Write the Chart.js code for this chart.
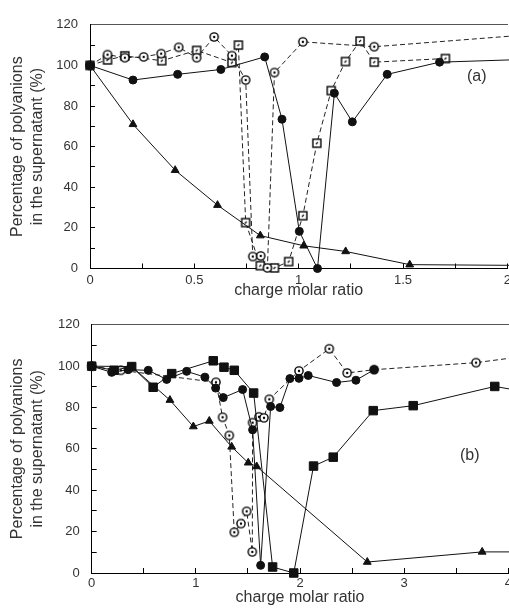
<!DOCTYPE html>
<html>
<head>
<meta charset="utf-8">
<script src="https://cdn.jsdelivr.net/npm/chart.js@4.4.1/dist/chart.umd.min.js"></script>
<style>
	html, body { margin: 0; padding: 0; background: #fff; overflow: hidden; width: 509px; height: 608px; }
	.painel { position: absolute; left: 0; }
	#painel_a { top: 0; }
	#painel_b { top: 300px; }
	.rotulo { position: absolute; font: 16px "Liberation Sans", Arial, sans-serif; line-height: 18px; color: #333; }
</style>
</head>
<body>
<div class="painel" id="painel_a"><canvas id="grafico_a" width="520" height="300"></canvas></div>
<div class="painel" id="painel_b"><canvas id="grafico_b" width="520" height="308"></canvas></div>
<div class="rotulo" style="left:467px; top:67px;">(a)</div>
<div class="rotulo" style="left:460px; top:446px;">(b)</div>
<script>
// painel (a)
var razaoA_circCheio = [0, 0.206, 0.42, 0.627, 0.837, 0.92, 1.003, 1.09, 1.171, 1.257, 1.424, 1.675, 2.1];
var pctA_circCheio = [100, 92.8, 95.6, 98, 104.2, 73.5, 18.3, 0, 86.3, 72.2, 95.6, 101.6, 103];

var razaoA_circVazio = [0, 0.084, 0.167, 0.257, 0.341, 0.425, 0.511, 0.595, 0.68, 0.746, 0.78, 0.818, 0.85, 0.884, 1.02, 1.362, 2.1];
var pctA_circVazio = [100, 105.3, 103.8, 104.2, 105.8, 108.9, 103.8, 114, 104.8, 92.8, 5.9, 6.2, 0.3, 96.5, 111.6, 109.2, 115.1];

var razaoA_quadVazio = [0, 0.084, 0.167, 0.344, 0.511, 0.68, 0.711, 0.746, 0.816, 0.884, 0.952, 1.02, 1.087, 1.156, 1.224, 1.294, 1.362, 1.703];
var pctA_quadVazio = [100, 102.7, 104.7, 102.3, 107.4, 101.4, 110, 22.6, 1.4, 0.3, 3.4, 26, 61.7, 87.6, 101.9, 112, 101.6, 103.4];

var razaoA_tri = [0, 0.206, 0.408, 0.611, 0.816, 1.024, 1.225, 1.532, 2.1];
var pctA_tri = [100, 71, 48.4, 31.2, 16.2, 11.2, 8.4, 1.9, 1.5];

// painel (b)
var razaoB_quadCheio = [0, 0.215, 0.384, 0.59, 0.768, 1.167, 1.27, 1.369, 1.555, 1.737, 1.94, 2.13, 2.319, 2.703, 3.087, 3.87, 4.1];
var pctB_quadCheio = [100, 98, 99.8, 89.8, 96.4, 102.6, 99.5, 98, 87, 2.9, 0, 51.7, 56, 78.5, 80.9, 90.2, 88.2];

var razaoB_circCheio = [0, 0.192, 0.35, 0.543, 0.72, 0.912, 1.087, 1.19, 1.263, 1.449, 1.545, 1.622, 1.718, 1.807, 1.903, 1.99, 2.079, 2.351, 2.537, 2.712];
var pctB_circCheio = [100, 97, 98.3, 98, 93.6, 97.5, 94.7, 89.4, 84.8, 88.7, 69.2, 3.7, 80.5, 80, 94, 94.1, 95.5, 92.1, 93.2, 98.3];

var razaoB_circVazio = [0, 0.28, 1.193, 1.257, 1.321, 1.369, 1.433, 1.488, 1.542, 1.545, 1.606, 1.654, 1.705, 1.99, 2.281, 2.453, 2.712, 3.69, 4.1];
var pctB_circVazio = [100, 98, 92.2, 75.3, 66.5, 19.7, 23.9, 29.8, 10.2, 72.7, 75.5, 75, 84, 97.7, 108.4, 96.7, 98.3, 101.7, 104.4];

var razaoB_tri = [0, 0.384, 0.751, 0.976, 1.129, 1.344, 1.503, 1.584, 2.646, 3.749, 4.1];
var pctB_tri = [100, 99.8, 83.6, 70.8, 73.5, 61, 53.3, 51.5, 5.3, 10.2, 10.2];

var titulo_x = "charge molar ratio";
var titulo_y = ["Percentage of polyanions", "in the supernatant (%)"];

var cor_texto = "#333";
var fonte = "'Liberation Sans', Arial, sans-serif";

function pontos(xs, ys) {
	return xs.map(function (x, i) {
		return { x: x, y: ys[i] };
	});
}

// marcadores vazados com o pontinho no meio
function marcadorVazio(tipo) {
	var c = document.createElement("canvas");
	c.width = 12;
	c.height = 12;
	var g = c.getContext("2d");
	g.fillStyle = "#fff";
	g.strokeStyle = "#000";
	g.lineWidth = 1.4;
	if (tipo == "circulo") {
		g.beginPath();
		g.arc(6, 6, 4.1, 0, 2 * Math.PI);
		g.fill();
		g.stroke();
		g.fillStyle = "#000";
		g.beginPath();
		g.arc(6, 6, 1.2, 0, 2 * Math.PI);
		g.fill();
	} else {
		g.fillRect(2, 2, 8, 8);
		g.strokeRect(2, 2, 8, 8);
		g.lineWidth = 1.1;
		g.beginPath();
		g.moveTo(5, 7);
		g.lineTo(7, 5);
		g.stroke();
	}
	return c;
}

var circ_vazio = marcadorVazio("circulo");
var quad_vazio = marcadorVazio("quadrado");

function serieCheia(dados, estilo, raio) {
	return {
		data: dados,
		showLine: true,
		borderColor: "#111",
		borderWidth: 1,
		pointStyle: estilo,
		pointRadius: raio,
		pointBackgroundColor: "#111",
		pointBorderColor: "#111",
		pointBorderWidth: 1,
		clip: false,
	};
}

function serieVazia(dados, estilo) {
	return {
		data: dados,
		showLine: true,
		borderColor: "#222",
		borderWidth: 1,
		borderDash: [5, 3],
		pointStyle: estilo,
		pointRadius: 5,
		clip: false,
	};
}

function opcoesPainel(cfg) {
	return {
		responsive: false,
		animation: false,
		events: [],
		layout: { padding: { left: 0, right: cfg.direita, top: cfg.topo, bottom: 0 } },
		plugins: { legend: { display: false }, tooltip: { enabled: false } },
		scales: {
			x: {
				type: "linear",
				position: "bottom",
				min: 0,
				max: cfg.xMax,
				afterFit: function (s) {
					s.height = cfg.alturaX;
				},
				border: { color: "#000", width: 1 },
				grid: { drawOnChartArea: false, tickLength: -5, color: "#000", tickColor: "#000" },
				ticks: {
					stepSize: cfg.passoX,
					autoSkip: false,
					maxRotation: 0,
					padding: cfg.padX,
					color: cor_texto,
					font: { family: fonte, size: 13 },
					callback: function (v) {
						var k = v / cfg.passoRotulo;
						return Math.abs(k - Math.round(k)) < 1e-6 ? v : "";
					},
				},
				title: {
					display: true,
					text: titulo_x,
					color: cor_texto,
					font: { family: fonte, size: 16 },
					padding: { top: 0, bottom: cfg.padTituloX },
				},
			},
			x2: {
				type: "linear",
				position: "top",
				min: 0,
				max: cfg.xMax,
				afterFit: function (s) {
					s.height = 0;
				},
				ticks: { display: false },
				grid: { display: false },
				border: { color: "#555", width: 1 },
			},
			y: {
				type: "linear",
				min: 0,
				max: 120,
				afterFit: function (s) {
					s.width = cfg.esquerda;
				},
				border: { color: "#000", width: 1 },
				grid: { drawOnChartArea: false, tickLength: -5, color: "#000", tickColor: "#000" },
				ticks: {
					stepSize: 10,
					autoSkip: false,
					padding: 17,
					color: cor_texto,
					font: { family: fonte, size: 13 },
					callback: function (v) {
						return v % 20 === 0 ? v : "";
					},
				},
				title: {
					display: true,
					text: titulo_y,
					color: cor_texto,
					font: { family: fonte, size: 16 },
					padding: { top: 8.4, bottom: 0 },
				},
			},
		},
	};
}

var grafico_a = new Chart(document.getElementById("grafico_a"), {
	type: "scatter",
	data: {
		datasets: [
			serieCheia(pontos(razaoA_circCheio, pctA_circCheio), "circle", 4),
			serieCheia(pontos(razaoA_tri, pctA_tri), "triangle", 4.5),
			serieVazia(pontos(razaoA_circVazio, pctA_circVazio), circ_vazio),
			serieVazia(pontos(razaoA_quadVazio, pctA_quadVazio), quad_vazio),
		],
	},
	options: opcoesPainel({ xMax: 2, passoX: 0.25, passoRotulo: 0.5, esquerda: 90, direita: 10, topo: 13, alturaX: 31.5, padX: 9, padTituloX: 0 }),
});

var grafico_b = new Chart(document.getElementById("grafico_b"), {
	type: "scatter",
	data: {
		datasets: [
			serieCheia(pontos(razaoB_circCheio, pctB_circCheio), "circle", 4),
			serieCheia(pontos(razaoB_quadCheio, pctB_quadCheio), "rect", 6),
			serieCheia(pontos(razaoB_tri, pctB_tri), "triangle", 4.5),
			serieVazia(pontos(razaoB_circVazio, pctB_circVazio), circ_vazio),
		],
	},
	options: opcoesPainel({ xMax: 4, passoX: 0.5, passoRotulo: 1, esquerda: 91.7, direita: 11.7, topo: 15, alturaX: 35, padX: 8, padTituloX: 1 }),
});
</script>
</body>
</html>
